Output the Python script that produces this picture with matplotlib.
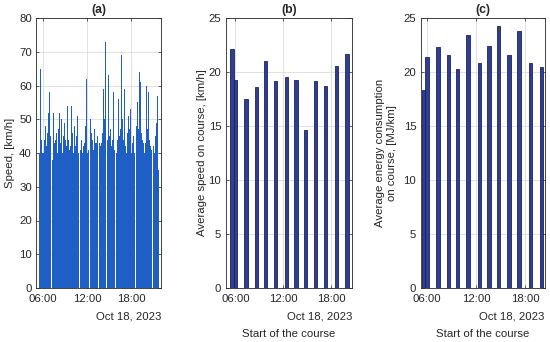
import matplotlib
matplotlib.use("Agg")
import matplotlib.pyplot as plt
import matplotlib.dates as mdates
import numpy as np
import pandas as pd

plt.rcParams['font.family'] = ['Liberation Sans', 'DejaVu Sans']
plt.rcParams['font.size'] = 8.2

day = "2023-10-18"

# start time of each course
course_start = ["05:35", "06:00", "07:20", "08:38", "09:45", "11:00", "12:23",
                "13:35", "14:45", "16:00", "17:15", "18:38", "19:58"]

# (b) average speed per course [km/h]
avg_speed = [22.1, 19.3, 17.5, 18.6, 21.0, 19.2, 19.5, 19.3, 14.6, 19.2, 18.7, 20.6, 21.7]

# (c) average energy consumption per course [MJ/km]
avg_energy = [18.3, 21.4, 22.3, 21.6, 20.3, 23.4, 20.8, 22.4, 24.3, 21.6, 23.8, 20.8, 20.5]

# (a) speed samples, every 5 min, one list per driving block
speed_start = ["05:25", "05:55", "07:15", "08:33", "09:40", "10:55", "12:18",
               "13:30", "14:40", "15:55", "17:10", "18:33", "19:53"]
speed_c1 = [0, 40, 65, 47, 44, 40, 0]
speed_c2 = [0, 40, 44, 41, 48, 45, 42, 46, 40, 44, 52, 58, 45, 0, 0, 40, 38, 0]
speed_c3 = [0, 41, 52, 43, 40, 44, 46, 42, 40, 45, 47, 52, 44, 43, 50, 0]
speed_c4 = [0, 40, 43, 45, 49, 44, 40, 42, 54, 47, 44, 43, 41, 0]
speed_c5 = [0, 42, 54, 46, 43, 40, 44, 48, 42, 41, 45, 47, 51, 40, 0]
speed_c6 = [0, 38, 41, 43, 44, 40, 42, 39, 43, 7, 48, 54, 62, 40, 41, 35, 0]
speed_c7 = [0, 43, 50, 46, 42, 44, 41, 40, 47, 43, 42, 40, 43, 45, 0]
speed_c8 = [0, 40, 43, 42, 41, 43, 44, 46, 59, 48, 50, 73, 45, 0]
speed_c9 = [0, 44, 49, 63, 45, 43, 47, 40, 42, 44, 50, 58, 41, 40, 0]
speed_c10 = [0, 40, 44, 48, 56, 45, 43, 47, 52, 69, 50, 46, 44, 59, 0]
speed_c11 = [0, 42, 40, 44, 46, 45, 51, 47, 53, 44, 40, 41, 43, 42, 45, 40, 0]
speed_c12 = [0, 41, 48, 55, 44, 47, 52, 64, 50, 61, 46, 44, 42, 43, 40, 0]
speed_c13 = [0, 43, 60, 47, 45, 50, 58, 44, 42, 40, 41, 0, 0, 42, 38, 40, 43, 45, 49, 42, 57, 35]
speed_blocks = [speed_c1, speed_c2, speed_c3, speed_c4, speed_c5, speed_c6, speed_c7,
                speed_c8, speed_c9, speed_c10, speed_c11, speed_c12, speed_c13]

txt = '#262626'

t_speed = []
v_speed = []
for st, vals in zip(speed_start, speed_blocks):
    rng = pd.date_range(f"{day} {st}", periods=len(vals), freq="5min")
    t_speed.extend(rng)
    v_speed.extend(vals)
t_speed = mdates.date2num(pd.DatetimeIndex(t_speed).to_pydatetime())
t_course = mdates.date2num(pd.to_datetime([f"{day} {s}" for s in course_start]).to_pydatetime())

fig = plt.figure(figsize=(5.5, 3.42), dpi=100)
ax_a = fig.add_axes([36/550, 54/342, 125/550, 270/342])
ax_b = fig.add_axes([225.5/550, 54/342, 126.5/550, 270/342])
ax_c = fig.add_axes([420.5/550, 54/342, 124/550, 270/342])


def style(ax, xlim, ylim, yticks):
    ax.set_axisbelow(True)
    ax.grid(True, color='#dcdcdc', linewidth=0.6)
    ax.set_xlim(mdates.date2num(pd.Timestamp(f"{day} {xlim[0]}")),
                mdates.date2num(pd.Timestamp(f"{day} {xlim[1]}")))
    ax.set_ylim(*ylim)
    ax.set_yticks(yticks)
    ax.xaxis.set_major_locator(mdates.HourLocator(byhour=[6, 12, 18]))
    ax.xaxis.set_major_formatter(mdates.DateFormatter('%H:%M'))
    ax.tick_params(direction='in', top=True, right=True, length=2.5, width=0.5,
                   colors=txt, labelsize=8.2)
    ax.tick_params(axis='x', pad=4)
    ax.tick_params(axis='y', pad=3)
    for s in ax.spines.values():
        s.set_color(txt)
        s.set_linewidth(0.6)
    ax.text(1.0, -0.105, "Oct 18, 2023", transform=ax.transAxes, ha='right',
            va='center', color=txt)


# bars a bit wider than the 5 min step so each one spans about a pixel
ax_a.bar(t_speed, v_speed, width=8/1440, align='edge', color='#1f5ec4',
         linewidth=0)
style(ax_a, ("05:03", "22:06"), (0, 80), range(0, 81, 10))
ax_a.text(0.5, 1.03, "(a)", transform=ax_a.transAxes, ha='center', va='center',
          fontweight='bold', color=txt, fontsize=8.8)
ax_a.text(-0.21, 0.5, "Speed, [km/h]", transform=ax_a.transAxes, rotation=90,
          ha='center', va='center', color=txt)

ax_b.bar(t_course, avg_speed, width=25/1440, color='#2f3e8f', edgecolor='#1a2366',
         linewidth=0.6)
style(ax_b, ("04:45", "20:35"), (0, 25), range(0, 26, 5))
ax_b.text(0.5, 1.03, "(b)", transform=ax_b.transAxes, ha='center', va='center',
          fontweight='bold', color=txt, fontsize=8.8)
ax_b.text(-0.187, 0.5, "Average speed on course, [km/h]", transform=ax_b.transAxes,
          rotation=90, ha='center', va='center', color=txt)
ax_b.text(0.5, -0.17, "Start of the course", transform=ax_b.transAxes,
          ha='center', va='center', color=txt)

ax_c.bar(t_course, avg_energy, width=25/1440, color='#2f3e8f', edgecolor='#1a2366',
         linewidth=0.6)
style(ax_c, ("05:13", "20:20"), (0, 25), range(0, 26, 5))
ax_c.text(0.5, 1.03, "(c)", transform=ax_c.transAxes, ha='center', va='center',
          fontweight='bold', color=txt, fontsize=8.8)
ax_c.text(-0.28, 0.5, "Average energy consumption\non course, [MJ/km]",
          transform=ax_c.transAxes, rotation=90, ha='center', va='center',
          multialignment='center', color=txt)
ax_c.text(0.5, -0.17, "Start of the course", transform=ax_c.transAxes,
          ha='center', va='center', color=txt)

fig.savefig("out.png", dpi=100)
